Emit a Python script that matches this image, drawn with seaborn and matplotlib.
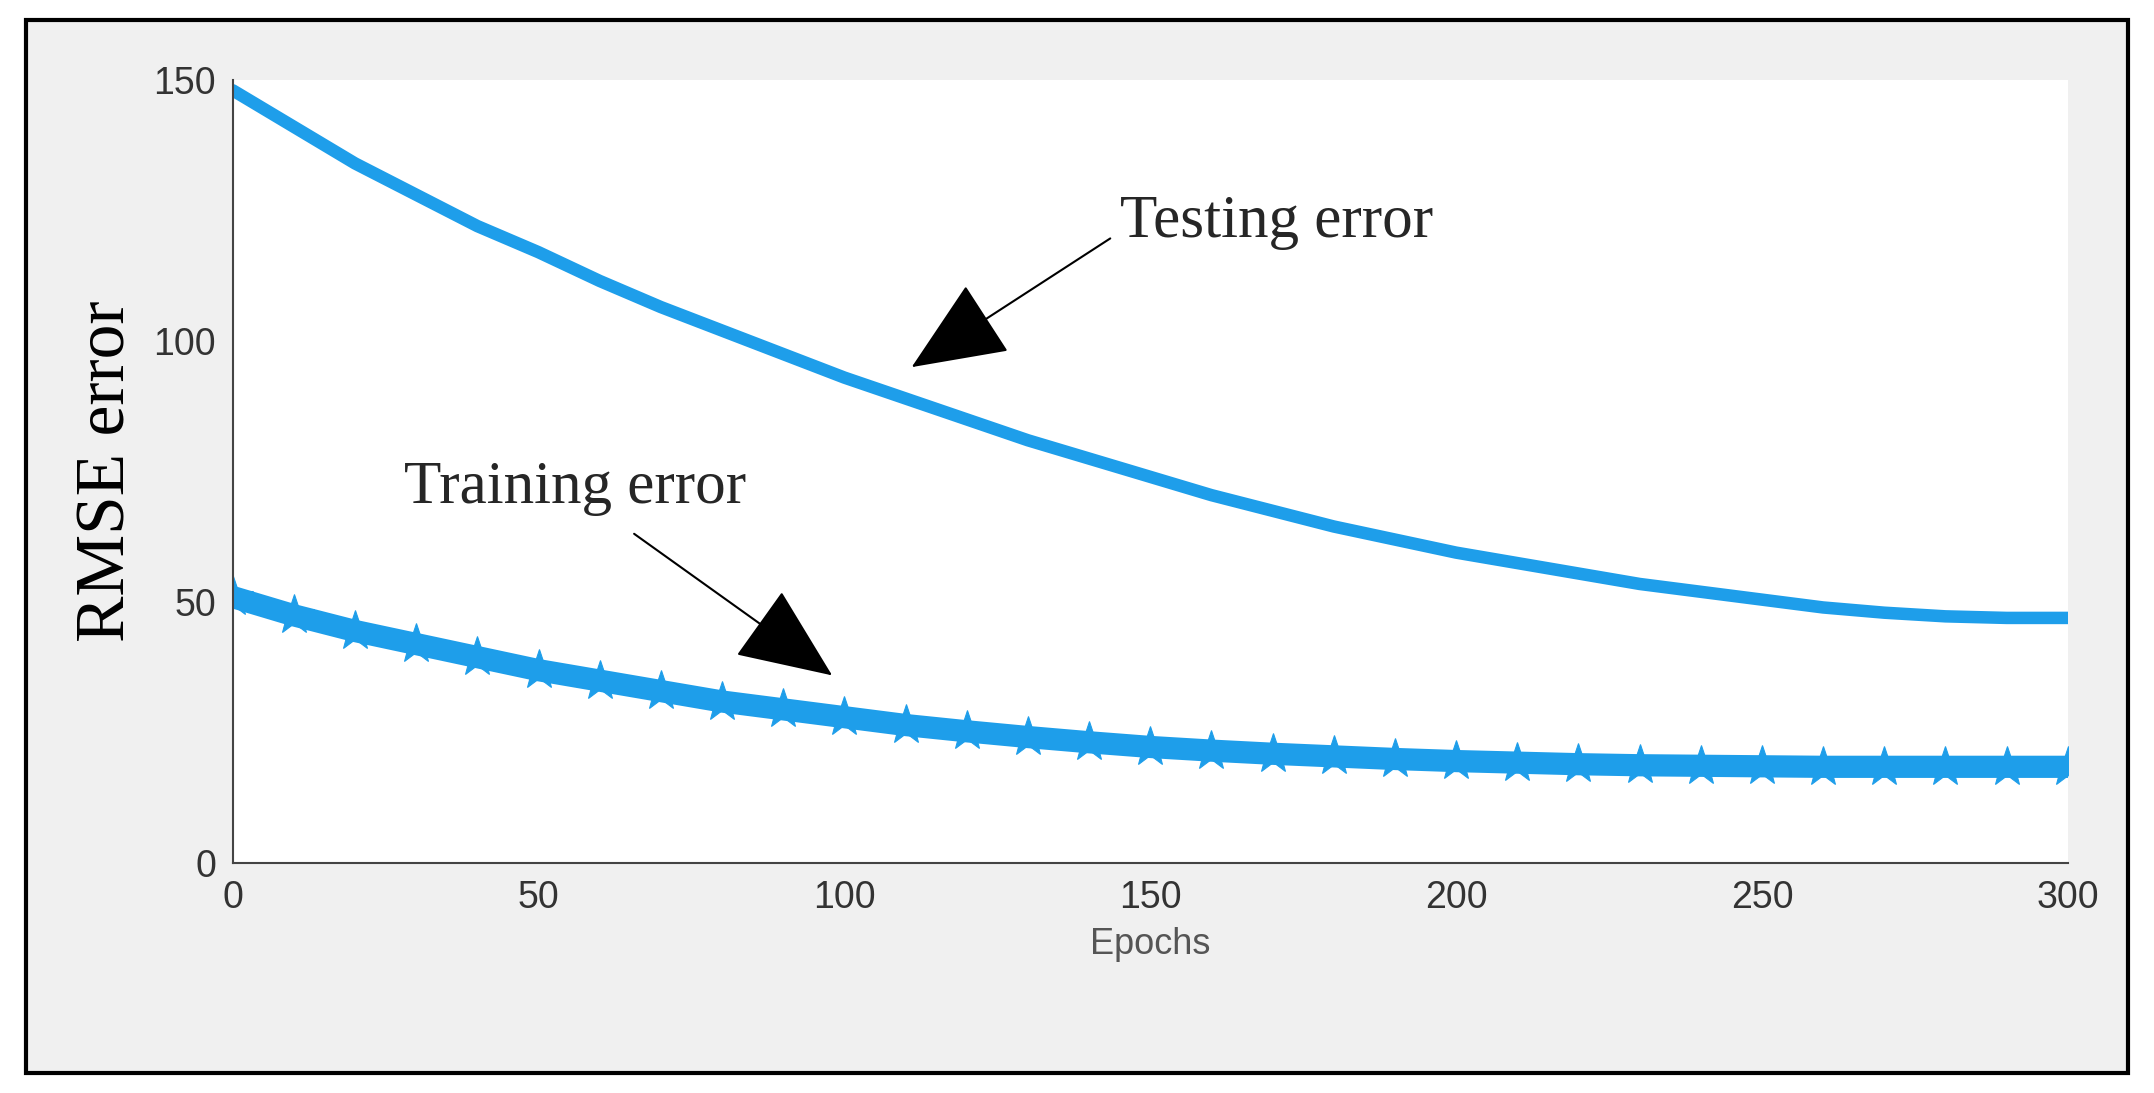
import matplotlib
matplotlib.use("Agg")
import matplotlib.pyplot as plt
import seaborn as sns
import pandas as pd
from matplotlib.patches import Rectangle

epochs = [0, 10, 20, 30, 40, 50, 60, 70, 80, 90, 100, 110, 120, 130, 140, 150, 160, 170, 180, 190,
          200, 210, 220, 230, 240, 250, 260, 270, 280, 290, 300]
testing = [148, 141, 134, 128, 122, 117, 111.5, 106.5, 102, 97.5, 93, 89, 85, 81, 77.5, 74, 70.5,
           67.5, 64.5, 62, 59.5, 57.5, 55.5, 53.5, 52, 50.5, 49, 48, 47.3, 47, 47]
training = [51, 47.5, 44.5, 42, 39.5, 37, 35, 33, 31, 29.5, 28, 26.5, 25.3, 24.2, 23.2, 22.3, 21.6,
            21, 20.5, 20, 19.6, 19.3, 19, 18.8, 18.7, 18.6, 18.5, 18.5, 18.5, 18.5, 18.5]
xticks = [0, 50, 100, 150, 200, 250, 300]
yticks = [0, 50, 100, 150]

df = pd.DataFrame({"Epochs": epochs, "Testing": testing, "Training": training})

sns.set_style("white")
fig = plt.figure(figsize=(21.54, 10.93), dpi=100, facecolor="white")
fig.patches.append(Rectangle((0.012, 0.018), 0.976, 0.964, transform=fig.transFigure,
                             facecolor="#f0f0f0", edgecolor="black", linewidth=3, zorder=-10))
ax = fig.add_axes([0.108, 0.21, 0.852, 0.717])
ax.set_facecolor("white")
blue = "#1e9eea"
sns.lineplot(data=df, x="Epochs", y="Testing", ax=ax, color=blue, linewidth=9)
sns.lineplot(data=df, x="Epochs", y="Training", ax=ax, color=blue, linewidth=16,
             marker="*", markersize=30, markeredgecolor=blue)
ax.set_xlim(0, 300)
ax.set_ylim(0, 150)
ax.set_xticks(xticks)
ax.set_yticks(yticks)
ax.tick_params(labelsize=27, labelcolor="#333333", length=6, direction="in", color="#444444", pad=12)
for t in ax.get_xticklabels() + ax.get_yticklabels():
    t.set_family("Liberation Sans")
for s in ["top", "right"]:
    ax.spines[s].set_visible(False)
for s in ["left", "bottom"]:
    ax.spines[s].set_color("#444444")
    ax.spines[s].set_linewidth(1.5)
ax.set_xlabel("Epochs", fontsize=26, color="#555555", family="Liberation Sans", labelpad=8)
ax.set_ylabel("RMSE error", fontsize=50, color="black", family="Liberation Serif", labelpad=10)

ax.annotate("Testing error", xy=(111, 95), xytext=(145, 120), fontsize=44,
            family="Liberation Serif",
            arrowprops=dict(arrowstyle="-|>,head_width=0.6,head_length=1.4", color="black", lw=1.5,
                            shrinkA=0, shrinkB=0, relpos=(-0.03, 0.2)))
ax.annotate("Training error", xy=(98, 36), xytext=(28, 69), fontsize=44,
            family="Liberation Serif",
            arrowprops=dict(arrowstyle="-|>,head_width=0.6,head_length=1.4", color="black", lw=1.5,
                            shrinkA=18, shrinkB=0, relpos=(0.6, 0)))
fig.savefig("out.png", dpi=100)
